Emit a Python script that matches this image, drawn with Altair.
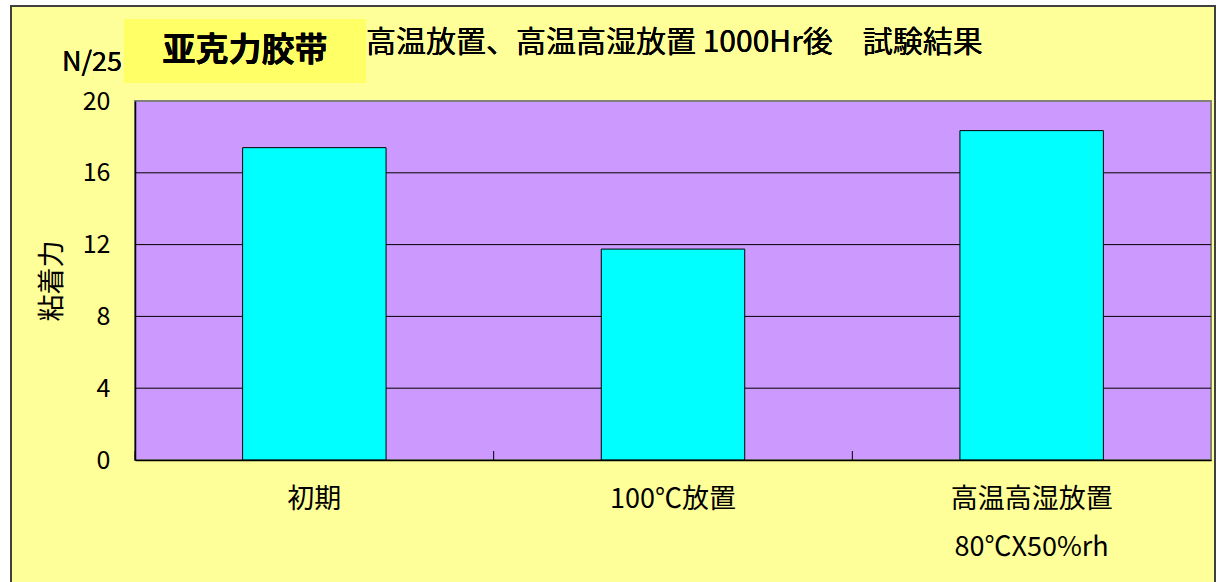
import altair as alt
import pandas as pd

# Adhesion test results (N/25mm) after 1000 h storage
categories = ["初期", "100℃放置", "高温高湿放置"]
sublabels = ["", "", "80℃X50%rh"]
values = [17.4, 11.75, 18.35]
y_ticks = [0, 4, 8, 12, 16, 20]
grid_values = [4, 8, 12, 16]

title_text = "高温放置、高温高湿放置 1000Hr後　試験結果"
unit_text = "N/25"
badge_text = "亚克力胶带"
y_title = "粘着力"

FONT = "Noto Sans CJK JP"
W, H = 1076, 359

df = pd.DataFrame({"cat": categories, "val": values})
grid_df = pd.DataFrame({"g": grid_values})

# multi-line category labels where a sub-label exists
label_parts = []
for c, s in zip(categories, sublabels):
    if s:
        label_parts.append(f"datum.value == '{c}' ? ['{c}', '{s}']")
expr = " : ".join(label_parts + ["datum.label"])

x_enc = alt.X(
    "cat:N",
    sort=categories,
    scale=alt.Scale(paddingInner=0, paddingOuter=0),
    axis=alt.Axis(
        title=None, labelAngle=0, ticks=False, grid=False, domainColor="#000000",
        domainWidth=1.5, labelFont=FONT, labelFontSize=27, labelColor="#000000",
        labelPadding=26, labelLineHeight=48, labelExpr=expr, zindex=1,
    ),
)
y_scale = alt.Scale(domain=[0, 20], nice=False)

base = alt.Chart(df)

# outer yellow panel with border
panel = base.mark_rect(fill="#FFFF99", stroke="#404040", strokeWidth=2).encode(
    x=alt.value(-124), x2=alt.value(1080), y=alt.value(-95), y2=alt.value(490)
)
# purple plot area
plot_bg = base.mark_rect(fill="#CC99FF", stroke="#808080", strokeWidth=2).encode(
    x=alt.value(0), x2=alt.value(W), y=alt.value(0), y2=alt.value(H)
)
grid = alt.Chart(grid_df).mark_rule(color="#000000", strokeWidth=1).encode(
    y=alt.Y("g:Q", scale=y_scale)
)
bars = base.mark_bar(
    width=alt.RelativeBandSize(0.4), fill="#00FFFF", stroke="#000000", strokeWidth=1
).encode(
    x=x_enc,
    y=alt.Y(
        "val:Q",
        scale=y_scale,
        axis=alt.Axis(
            values=y_ticks, title=y_title, grid=False, ticks=False,
            domainColor="#000000", domainWidth=1.5, labelFont=FONT,
            labelFontSize=25, labelColor="#000000", labelPadding=25,
            titleFont=FONT, titleFontSize=27, titleFontWeight="normal",
            titleColor="#000000", titlePadding=16, zindex=1,
        ),
    ),
)
# category boundary ticks on the x axis
bticks = base.mark_rule(color="#000000", strokeWidth=1).encode(
    x=alt.X("cat:N", sort=categories, bandPosition=0),
    y=alt.value(H - 9), y2=alt.value(H),
)

unit = base.mark_text(
    text=unit_text, font=FONT, fontSize=27, align="left", baseline="middle", color="#000000"
).encode(x=alt.value(-73), y=alt.value(-38))
badge = base.mark_rect(fill="#FFFF66").encode(
    x=alt.value(-11), x2=alt.value(231), y=alt.value(-82), y2=alt.value(-18)
)
badge_label = base.mark_text(
    text=badge_text, font=FONT, fontSize=33, fontWeight="bold", align="center",
    baseline="middle", color="#000000",
).encode(x=alt.value(110), y=alt.value(-50))
title = base.mark_text(
    text=title_text, font=FONT, fontSize=30, align="left", baseline="middle", color="#000000"
).encode(x=alt.value(231), y=alt.value(-58))

chart = alt.layer(
    panel, plot_bg, grid, bars, bticks, unit, badge, badge_label, title
).properties(
    width=W, height=H, autosize="none",
    padding={"left": 135, "top": 101, "right": 5, "bottom": 122},
    background="#FFFFFF",
).configure_view(stroke=None)

chart.save("out.html", embed_options={"renderer": "svg", "actions": False})
